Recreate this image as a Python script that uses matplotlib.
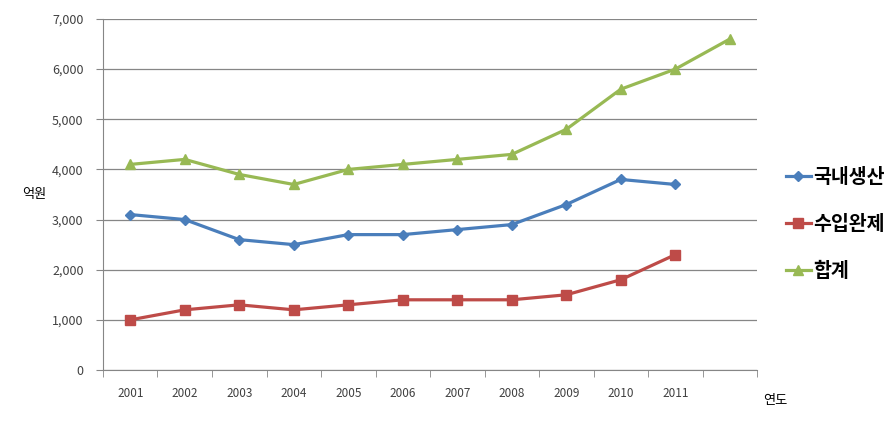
import numpy as np
import matplotlib.pyplot as plt

plt.rcParams['font.family'] = ['Noto Sans CJK KR', 'DejaVu Sans']

years = ['2001', '2002', '2003', '2004', '2005', '2006', '2007', '2008', '2009', '2010', '2011', '']
domestic = [3100, 3000, 2600, 2500, 2700, 2700, 2800, 2900, 3300, 3800, 3700, np.nan]
imported = [1000, 1200, 1300, 1200, 1300, 1400, 1400, 1400, 1500, 1800, 2300, np.nan]
total = [4100, 4200, 3900, 3700, 4000, 4100, 4200, 4300, 4800, 5600, 6000, 6600]

fig = plt.figure(figsize=(8.94, 4.48), dpi=100)
ax = fig.add_axes([0.1152, 0.1741, 0.7316, 0.7835])

x = np.arange(len(years))
ax.plot(x, domestic, color='#4A7EBB', lw=2.3, marker='D', ms=5, label='국내생산')
ax.plot(x, imported, color='#BE4B48', lw=2.3, marker='s', ms=7, label='수입완제')
ax.plot(x, total, color='#98B954', lw=2.3, marker='^', ms=7, label='합계')

ax.set_xlim(-0.5, len(years) - 0.5)
ax.set_ylim(0, 7000)
ax.set_yticks(range(0, 7001, 1000))
ax.set_yticklabels(['{:,}'.format(v) for v in range(0, 7001, 1000)], fontsize=9, color='#404040')
ax.set_xticks(x)
ax.set_xticklabels(years, fontsize=8.5, color='#404040')
ax.set_xticks(np.arange(-0.5, len(years)), minor=True)
ax.tick_params(axis='x', which='major', length=0, pad=12)
ax.tick_params(axis='x', which='minor', length=5, color='#868686')
ax.tick_params(axis='y', length=5, color='#868686', direction='out', pad=9)
ax.grid(axis='y', color='#868686', lw=0.9)
ax.set_axisbelow(True)
for s in ['top', 'right']:
    ax.spines[s].set_visible(False)
for s in ['left', 'bottom']:
    ax.spines[s].set_color('#868686')

fig.text(0.038, 0.565, '억원', fontsize=9.5, ha='center', va='center')
fig.text(0.867, 0.105, '연도', fontsize=9.5, ha='center', va='center')

fig.legend(loc='center left', bbox_to_anchor=(0.879, 0.499), frameon=False,
           prop={'size': 14, 'weight': 'bold'}, handlelength=1.3, handletextpad=0.1,
           labelspacing=1.45, borderaxespad=0, borderpad=0)

fig.savefig('out.png', dpi=100)
